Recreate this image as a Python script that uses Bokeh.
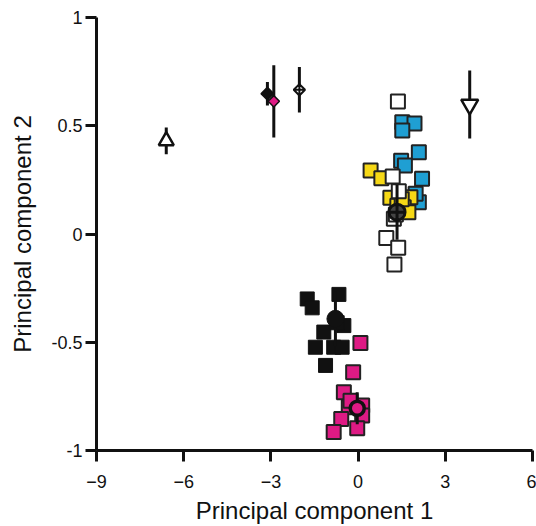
import numpy as np
from bokeh.plotting import figure
from bokeh.models import Range1d, FixedTicker
from bokeh.embed import file_html
from bokeh.resources import INLINE

# ---- data ----
blue_x = [1.52, 1.94, 1.52, 2.09, 1.48, 1.61, 2.20, 2.09, 1.98]
blue_y = [0.516, 0.510, 0.478, 0.378, 0.338, 0.316, 0.255, 0.147, 0.186]

yellow_x = [0.43, 0.80, 1.11, 1.80, 1.57, 1.73, 1.35, 1.50]
yellow_y = [0.293, 0.258, 0.167, 0.170, 0.124, 0.101, 0.130, 0.160]

white_x = [1.37, 1.19, 1.40, 1.23, 0.97, 1.38, 1.25, 1.30]
white_y = [0.612, 0.266, 0.198, 0.070, -0.018, -0.064, -0.141, 0.090]

black_x = [-1.75, -1.58, -0.66, -0.49, -1.18, -1.47, -0.84, -0.55, -1.12, -0.72]
black_y = [-0.300, -0.341, -0.279, -0.423, -0.453, -0.523, -0.523, -0.523, -0.607, -0.410]

magenta_x = [0.08, -0.17, -0.49, 0.14, -0.32, 0.14, -0.58, -0.03, -0.84, -0.26]
magenta_y = [-0.504, -0.638, -0.731, -0.792, -0.800, -0.838, -0.854, -0.897, -0.915, -0.770]

# group means with error (vertical)
cent_black = dict(x=-0.78, y=-0.392, err=0.125)
cent_cluster = dict(x=1.34, y=0.101, err=0.127)
cent_magenta = dict(x=-0.03, y=-0.805, err=0.074)

tri_up = dict(x=-6.60, y=0.430, err=0.062)
diam_black = dict(x=-3.12, y=0.648, err=0.054)
diam_magenta = dict(x=-2.90, y=0.613, err=0.167)
diam_cross = dict(x=-2.02, y=0.666, err=0.105)
tri_down = dict(x=3.84, y=0.598, err=0.157)

x_ticks = [-9, -6, -3, 0, 3, 6]
y_ticks = [-1, -0.5, 0, 0.5, 1]
y_tick_labels = ["-1", "-0.5", "0", "0.5", "1"]

BLUE = "#1f9fd3"
YELLOW = "#f6d816"
MAGENTA = "#de1a84"
EDGE = "#222222"
FONT = "Liberation Sans"

p = figure(width=536, height=526, output_backend="svg", toolbar_location=None,
           x_range=Range1d(-9, 6), y_range=Range1d(-1, 1),
           min_border_left=96, min_border_right=4, min_border_top=17, min_border_bottom=76)
p.grid.visible = False
p.outline_line_color = None

for ax in (p.xaxis[0], p.yaxis[0]):
    ax.axis_line_width = 3
    ax.axis_line_color = "#111111"
    ax.major_tick_line_width = 3
    ax.major_tick_line_color = "#111111"
    ax.major_tick_out = 11
    ax.major_tick_in = 0
    ax.minor_tick_line_color = None
    ax.major_label_text_font = FONT
    ax.major_label_text_font_size = "18px"
    ax.major_label_text_color = "#111111"
    ax.axis_label_text_font = FONT
    ax.axis_label_text_font_size = "24px"
    ax.axis_label_text_font_style = "normal"
    ax.axis_label_text_color = "#111111"

p.xaxis.ticker = FixedTicker(ticks=x_ticks)
p.yaxis.ticker = FixedTicker(ticks=y_ticks)
p.yaxis.major_label_overrides = {t: l for t, l in zip(y_ticks, y_tick_labels)}
p.xaxis.axis_label = "Principal component 1"
p.yaxis.axis_label = "Principal component 2"
p.xaxis.major_label_standoff = 13
p.yaxis.major_label_standoff = 3
p.xaxis.axis_label_standoff = 6
p.yaxis.axis_label_standoff = 12

def ebar(d, lw=3):
    p.segment(x0=[d["x"]], y0=[d["y"] - d["err"]], x1=[d["x"]], y1=[d["y"] + d["err"]],
              line_color="#111111", line_width=lw)

# isolated points with error bars
ebar(tri_up)
p.scatter([tri_up["x"]], [tri_up["y"]], marker="triangle", size=15,
          fill_color="white", line_color="#111111", line_width=2.5)
ebar(diam_magenta)
ebar(diam_black)
p.scatter([diam_black["x"]], [diam_black["y"]], marker="square", angle=np.pi / 4, size=9,
          fill_color="#111111", line_color="#111111", line_width=1.5)
p.scatter([diam_magenta["x"]], [diam_magenta["y"]], marker="square", angle=np.pi / 4, size=8,
          fill_color=MAGENTA, line_color="#111111", line_width=1.5)
ebar(diam_cross)
p.scatter([diam_cross["x"]], [diam_cross["y"]], marker="square_x", angle=np.pi / 4, size=8,
          fill_color="white", line_color="#111111", line_width=2)
ebar(tri_down)
p.scatter([tri_down["x"]], [tri_down["y"]], marker="inverted_triangle", size=17,
          fill_color="white", line_color="#111111", line_width=2.5)

# clusters
p.scatter(black_x, black_y, marker="square", size=14, fill_color="#111111",
          line_color="#111111", line_width=1)
ebar(cent_black)
p.scatter([cent_black["x"]], [cent_black["y"]], marker="circle", size=17,
          fill_color="#111111", line_color="#111111", line_width=1)

p.scatter(magenta_x, magenta_y, marker="square", size=14, fill_color=MAGENTA,
          line_color=EDGE, line_width=2)
ebar(cent_magenta)
p.scatter([cent_magenta["x"]], [cent_magenta["y"]], marker="circle", size=14,
          fill_color=MAGENTA, line_color="#111111", line_width=3.5)

p.scatter(blue_x, blue_y, marker="square", size=14, fill_color=BLUE,
          line_color=EDGE, line_width=2)
p.scatter(yellow_x, yellow_y, marker="square", size=14, fill_color=YELLOW,
          line_color=EDGE, line_width=2)
p.scatter(white_x, white_y, marker="square", size=14, fill_color="white",
          line_color=EDGE, line_width=2)
ebar(cent_cluster)
p.scatter([cent_cluster["x"]], [cent_cluster["y"]], marker="circle_cross", size=16,
          fill_color="#444444", line_color="#111111", line_width=3)

open("out.html", "w").write(file_html(p, INLINE))
